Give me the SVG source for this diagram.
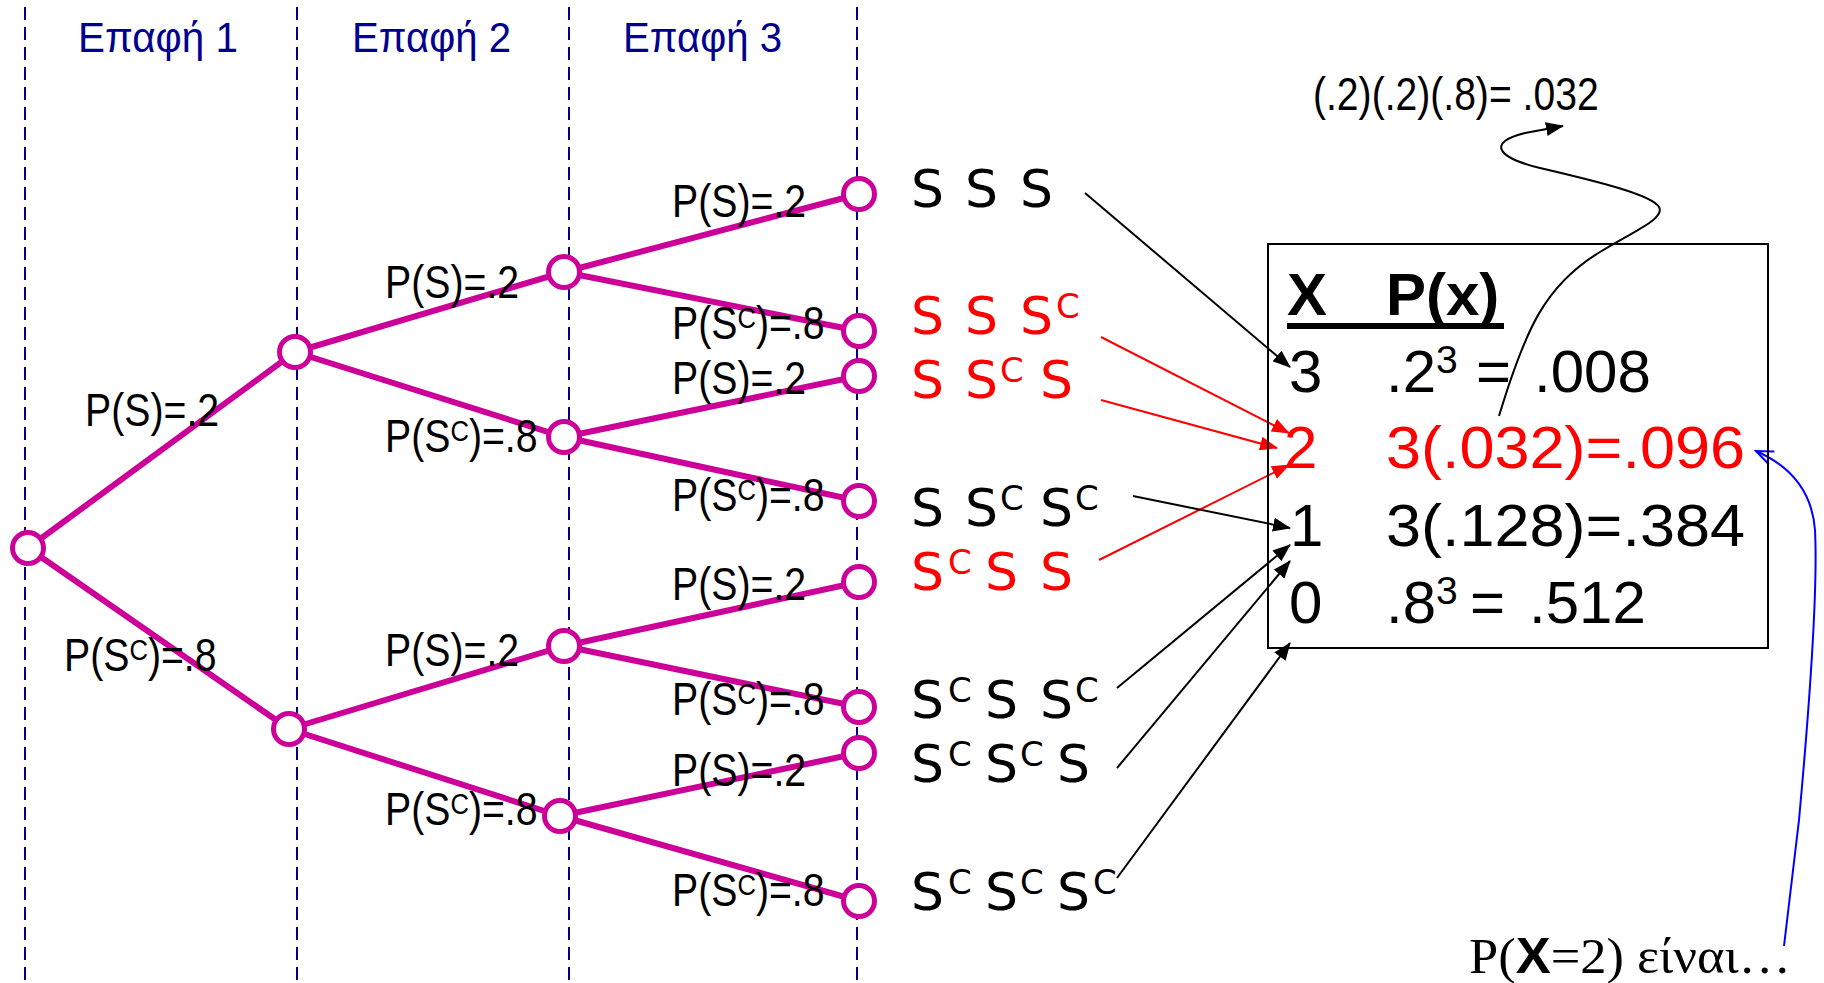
<svg xmlns="http://www.w3.org/2000/svg" width="1824" height="983" viewBox="0 0 1824 983">
<style>
.dash{stroke:#000080;stroke-width:2;stroke-dasharray:13 7;fill:none}
.hdr{font-family:"Liberation Sans",Arial,sans-serif;font-size:42px;fill:#000090}
.br{stroke:#CC0099;stroke-width:6;fill:none}
.nd{stroke:#CC0099;stroke-width:5;fill:#fff}
.lab{font-family:"Liberation Sans",Arial,sans-serif;font-size:46px;fill:#000}
.ls{font-size:30px}
.out{font-family:"DejaVu Sans",Verdana,sans-serif;font-size:52px;fill:#000}
.oc{font-size:34px}
.tb{font-family:"Liberation Sans",Arial,sans-serif;font-size:60px;fill:#000}
.ts{font-size:39px}
.ab{stroke:#000;stroke-width:2;fill:none}
.ar{stroke:#FF0000;stroke-width:2;fill:none}
.red{fill:#FF0000}
</style>
<defs>
<marker id="mb" markerUnits="userSpaceOnUse" markerWidth="18" markerHeight="14" refX="17" refY="7" orient="auto"><path d="M0,0 L18,7 L0,14 z" fill="#000"/></marker>
<marker id="mr" markerUnits="userSpaceOnUse" markerWidth="18" markerHeight="14" refX="17" refY="7" orient="auto"><path d="M0,0 L18,7 L0,14 z" fill="#FF0000"/></marker>
<marker id="mbl" markerUnits="userSpaceOnUse" markerWidth="20" markerHeight="16" refX="18" refY="8" orient="auto"><path d="M1,1 L18,8 L1,15" fill="none" stroke="#0000FF" stroke-width="2"/></marker>
</defs>

<g id="grid">
<line class="dash" x1="25" y1="7" x2="25" y2="983"/>
<line class="dash" x1="297" y1="7" x2="297" y2="983"/>
<line class="dash" x1="569" y1="7" x2="569" y2="983"/>
<line class="dash" x1="857" y1="7" x2="857" y2="983"/>
<text class="hdr" x="78" y="52" textLength="160" lengthAdjust="spacingAndGlyphs">Επαφή 1</text>
<text class="hdr" x="352" y="52" textLength="159" lengthAdjust="spacingAndGlyphs">Επαφή 2</text>
<text class="hdr" x="623" y="52" textLength="159" lengthAdjust="spacingAndGlyphs">Επαφή 3</text>
</g>

<g id="connectors">
<line class="br" x1="28" y1="548" x2="295" y2="352"/>
<line class="br" x1="28" y1="548" x2="289" y2="729"/>
<line class="br" x1="295" y1="352" x2="564" y2="272"/>
<line class="br" x1="295" y1="352" x2="564" y2="437"/>
<line class="br" x1="289" y1="729" x2="564" y2="646"/>
<line class="br" x1="289" y1="729" x2="560" y2="816"/>
<line class="br" x1="564" y1="272" x2="859" y2="194"/>
<line class="br" x1="564" y1="272" x2="859" y2="331"/>
<line class="br" x1="564" y1="437" x2="859" y2="376"/>
<line class="br" x1="564" y1="437" x2="859" y2="501"/>
<line class="br" x1="564" y1="646" x2="859" y2="582"/>
<line class="br" x1="564" y1="646" x2="859" y2="707"/>
<line class="br" x1="560" y1="816" x2="859" y2="753"/>
<line class="br" x1="560" y1="816" x2="859" y2="901"/>

<line class="ab" x1="1085" y1="193" x2="1290" y2="367" marker-end="url(#mb)"/>
<line class="ar" x1="1101" y1="337" x2="1289" y2="433" marker-end="url(#mr)"/>
<line class="ar" x1="1101" y1="400" x2="1277" y2="448" marker-end="url(#mr)"/>
<line class="ar" x1="1099" y1="560" x2="1289" y2="465" marker-end="url(#mr)"/>
<line class="ab" x1="1133" y1="496" x2="1290" y2="528" marker-end="url(#mb)"/>
<line class="ab" x1="1117" y1="688" x2="1290" y2="545" marker-end="url(#mb)"/>
<line class="ab" x1="1117" y1="768" x2="1290" y2="561" marker-end="url(#mb)"/>
<line class="ab" x1="1117" y1="878" x2="1290" y2="643" marker-end="url(#mb)"/>
<path class="ab" d="M1499,416 C1525,330 1545,285 1600,252 C1640,228 1665,218 1659,207 C1652,195 1600,182 1540,168 C1495,157 1488,142 1525,133 L1563,126" marker-end="url(#mb)"/>
<path d="M1784,946 L1799,820 C1810,700 1818,590 1815,530 C1812,490 1790,466 1756,451" fill="none" stroke="#0000FF" stroke-width="2" marker-end="url(#mbl)"/>
</g>

<g id="nodes">
<circle class="nd" cx="28" cy="548" r="15.5"/>
<circle class="nd" cx="295" cy="352" r="15.5"/>
<circle class="nd" cx="289" cy="729" r="15.5"/>
<circle class="nd" cx="564" cy="272" r="15.5"/>
<circle class="nd" cx="564" cy="437" r="15.5"/>
<circle class="nd" cx="564" cy="646" r="15.5"/>
<circle class="nd" cx="560" cy="816" r="15.5"/>
<circle class="nd" cx="859" cy="194" r="15.5"/>
<circle class="nd" cx="859" cy="331" r="15.5"/>
<circle class="nd" cx="859" cy="376" r="15.5"/>
<circle class="nd" cx="859" cy="501" r="15.5"/>
<circle class="nd" cx="859" cy="582" r="15.5"/>
<circle class="nd" cx="859" cy="707" r="15.5"/>
<circle class="nd" cx="859" cy="753" r="15.5"/>
<circle class="nd" cx="859" cy="901" r="15.5"/>
</g>

<g id="branch-labels">
<text class="lab" transform="translate(85,426) scale(0.853,1)">P(S)=.2</text>
<text class="lab" transform="translate(64,671) scale(0.853,1)">P(S<tspan class="ls" dy="-11">C</tspan><tspan dy="11">)=.8</tspan></text>
<text class="lab" transform="translate(385,298) scale(0.853,1)">P(S)=.2</text>
<text class="lab" transform="translate(385,452) scale(0.853,1)">P(S<tspan class="ls" dy="-11">C</tspan><tspan dy="11">)=.8</tspan></text>
<text class="lab" transform="translate(385,666) scale(0.853,1)">P(S)=.2</text>
<text class="lab" transform="translate(385,825) scale(0.853,1)">P(S<tspan class="ls" dy="-11">C</tspan><tspan dy="11">)=.8</tspan></text>
<text class="lab" transform="translate(672,217) scale(0.853,1)">P(S)=.2</text>
<text class="lab" transform="translate(672,339) scale(0.853,1)">P(S<tspan class="ls" dy="-11">C</tspan><tspan dy="11">)=.8</tspan></text>
<text class="lab" transform="translate(672,394) scale(0.853,1)">P(S)=.2</text>
<text class="lab" transform="translate(672,511) scale(0.853,1)">P(S<tspan class="ls" dy="-11">C</tspan><tspan dy="11">)=.8</tspan></text>
<text class="lab" transform="translate(672,600) scale(0.853,1)">P(S)=.2</text>
<text class="lab" transform="translate(672,715) scale(0.853,1)">P(S<tspan class="ls" dy="-11">C</tspan><tspan dy="11">)=.8</tspan></text>
<text class="lab" transform="translate(672,786) scale(0.853,1)">P(S)=.2</text>
<text class="lab" transform="translate(672,906) scale(0.853,1)">P(S<tspan class="ls" dy="-11">C</tspan><tspan dy="11">)=.8</tspan></text>
</g>

<g id="outcomes">
<text class="out"><tspan x="911" y="207">S</tspan><tspan x="965" y="207">S</tspan><tspan x="1020" y="207">S</tspan></text>
<text class="out red"><tspan x="911" y="334">S</tspan><tspan x="965" y="334">S</tspan><tspan x="1020" y="334">S</tspan><tspan class="oc" x="1056" y="318">C</tspan></text>
<text class="out red"><tspan x="911" y="398">S</tspan><tspan x="965" y="398">S</tspan><tspan class="oc" x="1000" y="382">C</tspan><tspan x="1040" y="398">S</tspan></text>
<text class="out"><tspan x="911" y="526">S</tspan><tspan x="965" y="526">S</tspan><tspan class="oc" x="1000" y="510">C</tspan><tspan x="1040" y="526">S</tspan><tspan class="oc" x="1075" y="510">C</tspan></text>
<text class="out red"><tspan x="911" y="590">S</tspan><tspan class="oc" x="948" y="574">C</tspan><tspan x="985" y="590">S</tspan><tspan x="1040" y="590">S</tspan></text>
<text class="out"><tspan x="911" y="718">S</tspan><tspan class="oc" x="948" y="702">C</tspan><tspan x="985" y="718">S</tspan><tspan x="1040" y="718">S</tspan><tspan class="oc" x="1075" y="702">C</tspan></text>
<text class="out"><tspan x="911" y="782">S</tspan><tspan class="oc" x="948" y="766">C</tspan><tspan x="985" y="782">S</tspan><tspan class="oc" x="1020" y="766">C</tspan><tspan x="1057" y="782">S</tspan></text>
<text class="out"><tspan x="911" y="910">S</tspan><tspan class="oc" x="948" y="894">C</tspan><tspan x="985" y="910">S</tspan><tspan class="oc" x="1020" y="894">C</tspan><tspan x="1057" y="910">S</tspan><tspan class="oc" x="1093" y="894">C</tspan></text>
</g>

<g id="table">
<rect x="1268" y="244" width="500" height="404" fill="none" stroke="#000" stroke-width="2"/>
<text class="tb" x="1287" y="315" font-weight="bold">X</text>
<text class="tb" x="1386" y="315" font-weight="bold">P(x)</text>
<rect x="1287" y="323" width="217" height="6" fill="#000"/>
<text class="tb" x="1289" y="392">3</text>
<text class="tb" x="1386" y="392">.2<tspan class="ts" dy="-19">3</tspan></text>
<text class="tb" x="1476" y="392">=</text>
<text class="tb" x="1534" y="392">.008</text>
<text class="tb red" x="1284" y="468">2</text>
<text class="tb red" x="1386" y="468" textLength="359" lengthAdjust="spacingAndGlyphs">3(.032)=.096</text>
<text class="tb" x="1290" y="546">1</text>
<text class="tb" x="1386" y="546" textLength="359" lengthAdjust="spacingAndGlyphs">3(.128)=.384</text>
<text class="tb" x="1289" y="623">0</text>
<text class="tb" x="1386" y="623">.8<tspan class="ts" dy="-19">3</tspan></text>
<text class="tb" x="1470" y="623">=</text>
<text class="tb" x="1529" y="623">.512</text>
</g>

<g id="notes">
<text class="lab" transform="translate(1313,110) scale(0.85,1)">(.2)(.2)(.8)= .032</text>
<text x="1469" y="973" font-family="'Liberation Serif','Times New Roman',serif" font-size="50" fill="#000" textLength="322" lengthAdjust="spacingAndGlyphs">P(<tspan font-family="'Liberation Sans',Arial,sans-serif" font-weight="bold">X</tspan>=2) είναι…</text>
</g>
</svg>
